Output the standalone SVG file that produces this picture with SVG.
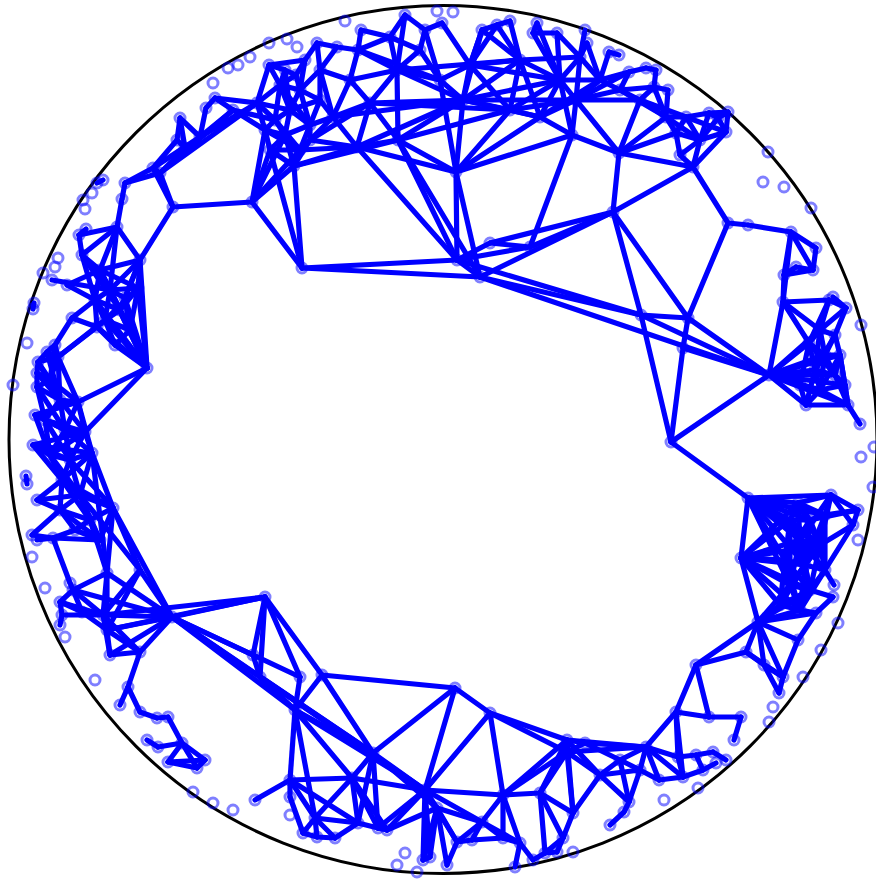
<svg xmlns="http://www.w3.org/2000/svg" width="876" height="880" viewBox="0 0 876 880">
<style>
.e line{stroke:#0000ff;stroke-width:5.2;stroke-linecap:round}
.n circle{fill:none;stroke:#0000ff;stroke-opacity:0.5;stroke-width:3}
</style>
<rect width="876" height="880" fill="#fff"/>
<circle id="disk" cx="443" cy="439.5" r="434" fill="none" stroke="#000" stroke-width="3"/>
<g id="edges" class="e">
<line x1="215" y1="98" x2="233" y2="110"/><line x1="215" y1="98" x2="257" y2="103"/><line x1="206" y1="108" x2="200" y2="137"/><line x1="215" y1="98" x2="206" y2="108"/><line x1="233" y1="110" x2="200" y2="137"/><line x1="257" y1="103" x2="200" y2="137"/><line x1="180" y1="118" x2="200" y2="137"/><line x1="180" y1="118" x2="177" y2="140"/><line x1="180" y1="118" x2="185" y2="148"/><line x1="177" y1="140" x2="185" y2="148"/><line x1="185" y1="148" x2="160" y2="173"/><line x1="177" y1="140" x2="153" y2="168"/><line x1="200" y1="137" x2="153" y2="168"/><line x1="233" y1="110" x2="160" y2="173"/><line x1="257" y1="103" x2="160" y2="173"/><line x1="153" y1="168" x2="160" y2="173"/><line x1="153" y1="168" x2="125" y2="183"/><line x1="160" y1="173" x2="125" y2="183"/><line x1="125" y1="183" x2="122" y2="199"/><line x1="122" y1="199" x2="117" y2="227"/><line x1="153" y1="168" x2="173" y2="207"/><line x1="160" y1="173" x2="173" y2="207"/><line x1="173" y1="207" x2="252" y2="202"/><line x1="252" y1="202" x2="302" y2="268"/><line x1="173" y1="207" x2="140" y2="260"/><line x1="103" y1="180" x2="97" y2="183"/>
<line x1="269" y1="65" x2="285" y2="70"/><line x1="269" y1="65" x2="280" y2="85"/><line x1="285" y1="70" x2="296" y2="75"/><line x1="285" y1="70" x2="280" y2="85"/><line x1="296" y1="75" x2="300" y2="90"/><line x1="305" y1="60" x2="296" y2="75"/><line x1="305" y1="60" x2="300" y2="90"/><line x1="280" y1="85" x2="300" y2="90"/><line x1="280" y1="85" x2="290" y2="110"/><line x1="280" y1="85" x2="275" y2="120"/><line x1="300" y1="90" x2="320" y2="100"/><line x1="300" y1="90" x2="290" y2="110"/><line x1="300" y1="90" x2="310" y2="125"/><line x1="320" y1="100" x2="310" y2="125"/><line x1="290" y1="110" x2="275" y2="120"/><line x1="290" y1="110" x2="310" y2="125"/><line x1="290" y1="110" x2="285" y2="135"/><line x1="275" y1="120" x2="265" y2="130"/><line x1="275" y1="120" x2="285" y2="135"/><line x1="310" y1="125" x2="285" y2="135"/><line x1="310" y1="125" x2="300" y2="150"/><line x1="265" y1="130" x2="285" y2="135"/><line x1="265" y1="130" x2="270" y2="150"/><line x1="285" y1="135" x2="300" y2="150"/><line x1="285" y1="135" x2="270" y2="150"/><line x1="300" y1="150" x2="270" y2="150"/><line x1="300" y1="150" x2="294" y2="166"/><line x1="270" y1="150" x2="294" y2="166"/><line x1="285" y1="135" x2="294" y2="166"/><line x1="275" y1="120" x2="257" y2="103"/><line x1="265" y1="130" x2="257" y2="103"/><line x1="280" y1="85" x2="257" y2="103"/><line x1="269" y1="65" x2="257" y2="103"/><line x1="275" y1="120" x2="233" y2="110"/><line x1="265" y1="130" x2="233" y2="110"/><line x1="290" y1="110" x2="257" y2="103"/><line x1="270" y1="150" x2="252" y2="202"/><line x1="265" y1="130" x2="252" y2="202"/><line x1="285" y1="135" x2="252" y2="202"/><line x1="300" y1="150" x2="252" y2="202"/><line x1="294" y1="166" x2="302" y2="268"/><line x1="270" y1="150" x2="302" y2="268"/><line x1="320" y1="100" x2="320" y2="70"/><line x1="310" y1="125" x2="333" y2="117"/><line x1="300" y1="150" x2="310" y2="140"/><line x1="305" y1="60" x2="317" y2="43"/><line x1="300" y1="90" x2="320" y2="70"/><line x1="310" y1="125" x2="310" y2="140"/><line x1="320" y1="100" x2="333" y2="117"/><line x1="294" y1="166" x2="310" y2="140"/><line x1="294" y1="166" x2="357" y2="147"/><line x1="300" y1="150" x2="357" y2="147"/><line x1="269" y1="65" x2="305" y2="60"/><line x1="290" y1="110" x2="320" y2="100"/><line x1="252" y1="202" x2="294" y2="166"/><line x1="275" y1="120" x2="300" y2="150"/><line x1="265" y1="130" x2="300" y2="150"/><line x1="280" y1="85" x2="310" y2="125"/><line x1="285" y1="70" x2="290" y2="110"/><line x1="296" y1="75" x2="280" y2="85"/>
<line x1="317" y1="43" x2="337" y2="47"/><line x1="317" y1="43" x2="320" y2="70"/><line x1="337" y1="47" x2="320" y2="70"/><line x1="337" y1="47" x2="358" y2="50"/><line x1="358" y1="50" x2="361" y2="30"/><line x1="361" y1="30" x2="390" y2="37"/><line x1="358" y1="50" x2="390" y2="37"/><line x1="390" y1="37" x2="405" y2="15"/><line x1="405" y1="15" x2="425" y2="30"/><line x1="425" y1="30" x2="442" y2="23"/><line x1="405" y1="15" x2="397" y2="70"/><line x1="390" y1="37" x2="397" y2="70"/><line x1="358" y1="50" x2="397" y2="70"/><line x1="358" y1="50" x2="350" y2="80"/><line x1="350" y1="80" x2="397" y2="70"/><line x1="350" y1="80" x2="370" y2="103"/><line x1="320" y1="70" x2="350" y2="80"/><line x1="320" y1="70" x2="333" y2="117"/><line x1="350" y1="80" x2="333" y2="117"/><line x1="333" y1="117" x2="370" y2="103"/><line x1="370" y1="103" x2="397" y2="70"/><line x1="397" y1="70" x2="420" y2="50"/><line x1="390" y1="37" x2="420" y2="50"/><line x1="425" y1="30" x2="420" y2="50"/><line x1="420" y1="50" x2="440" y2="80"/><line x1="397" y1="70" x2="440" y2="80"/><line x1="440" y1="80" x2="463" y2="100"/><line x1="370" y1="103" x2="398" y2="140"/><line x1="397" y1="70" x2="398" y2="140"/><line x1="333" y1="117" x2="310" y2="140"/><line x1="333" y1="117" x2="357" y2="147"/><line x1="310" y1="140" x2="357" y2="147"/><line x1="357" y1="147" x2="398" y2="140"/><line x1="370" y1="103" x2="357" y2="147"/><line x1="440" y1="80" x2="470" y2="65"/><line x1="442" y1="23" x2="470" y2="65"/><line x1="425" y1="30" x2="440" y2="80"/><line x1="470" y1="65" x2="482" y2="30"/><line x1="470" y1="65" x2="463" y2="100"/><line x1="482" y1="30" x2="497" y2="25"/><line x1="497" y1="25" x2="510" y2="21"/><line x1="482" y1="30" x2="520" y2="60"/><line x1="497" y1="25" x2="520" y2="60"/><line x1="510" y1="21" x2="520" y2="60"/><line x1="520" y1="60" x2="463" y2="100"/><line x1="520" y1="60" x2="510" y2="110"/><line x1="463" y1="100" x2="510" y2="110"/><line x1="510" y1="110" x2="540" y2="117"/><line x1="520" y1="60" x2="560" y2="80"/><line x1="537" y1="23" x2="560" y2="80"/><line x1="533" y1="33" x2="560" y2="80"/><line x1="537" y1="23" x2="533" y2="33"/><line x1="533" y1="33" x2="557" y2="33"/><line x1="557" y1="33" x2="560" y2="80"/><line x1="560" y1="80" x2="580" y2="57"/><line x1="557" y1="33" x2="580" y2="57"/><line x1="585" y1="30" x2="580" y2="57"/><line x1="587" y1="43" x2="580" y2="57"/><line x1="580" y1="57" x2="576" y2="100"/><line x1="560" y1="80" x2="576" y2="100"/><line x1="576" y1="100" x2="540" y2="117"/><line x1="520" y1="60" x2="540" y2="117"/><line x1="560" y1="80" x2="540" y2="117"/><line x1="580" y1="57" x2="600" y2="80"/><line x1="600" y1="80" x2="609" y2="52"/><line x1="609" y1="52" x2="619" y2="55"/><line x1="600" y1="80" x2="620" y2="90"/><line x1="600" y1="80" x2="629" y2="72"/><line x1="629" y1="72" x2="646" y2="68"/><line x1="646" y1="68" x2="656" y2="70"/><line x1="629" y1="72" x2="620" y2="90"/><line x1="620" y1="90" x2="654" y2="87"/><line x1="656" y1="70" x2="654" y2="87"/><line x1="654" y1="87" x2="668" y2="90"/><line x1="654" y1="87" x2="640" y2="100"/><line x1="620" y1="90" x2="640" y2="100"/><line x1="576" y1="100" x2="620" y2="90"/><line x1="576" y1="100" x2="640" y2="100"/><line x1="640" y1="100" x2="666" y2="117"/><line x1="668" y1="90" x2="666" y2="117"/><line x1="666" y1="117" x2="676" y2="133"/><line x1="666" y1="117" x2="686" y2="117"/><line x1="686" y1="117" x2="709" y2="113"/><line x1="709" y1="113" x2="718" y2="118"/><line x1="718" y1="118" x2="726" y2="132"/><line x1="709" y1="113" x2="728" y2="112"/><line x1="728" y1="112" x2="718" y2="118"/><line x1="728" y1="112" x2="726" y2="132"/><line x1="686" y1="117" x2="676" y2="133"/><line x1="676" y1="133" x2="700" y2="140"/><line x1="700" y1="140" x2="726" y2="132"/><line x1="676" y1="133" x2="680" y2="155"/><line x1="700" y1="140" x2="680" y2="155"/><line x1="680" y1="155" x2="693" y2="167"/><line x1="700" y1="140" x2="693" y2="167"/><line x1="726" y1="132" x2="693" y2="167"/><line x1="686" y1="117" x2="700" y2="140"/><line x1="686" y1="117" x2="726" y2="132"/><line x1="709" y1="113" x2="700" y2="140"/><line x1="718" y1="118" x2="700" y2="140"/><line x1="482" y1="30" x2="463" y2="100"/><line x1="398" y1="140" x2="463" y2="100"/><line x1="600" y1="80" x2="576" y2="100"/><line x1="587" y1="43" x2="600" y2="80"/><line x1="463" y1="100" x2="540" y2="117"/><line x1="510" y1="110" x2="576" y2="100"/><line x1="333" y1="117" x2="463" y2="100"/><line x1="370" y1="103" x2="510" y2="110"/><line x1="310" y1="140" x2="370" y2="103"/><line x1="357" y1="147" x2="463" y2="100"/><line x1="398" y1="140" x2="510" y2="110"/><line x1="397" y1="70" x2="520" y2="60"/><line x1="358" y1="50" x2="440" y2="80"/><line x1="470" y1="65" x2="560" y2="80"/><line x1="463" y1="100" x2="576" y2="100"/><line x1="510" y1="110" x2="560" y2="80"/><line x1="470" y1="65" x2="520" y2="60"/><line x1="482" y1="30" x2="470" y2="65"/><line x1="470" y1="65" x2="510" y2="110"/><line x1="497" y1="25" x2="470" y2="65"/><line x1="520" y1="60" x2="580" y2="57"/><line x1="560" y1="80" x2="600" y2="80"/><line x1="540" y1="117" x2="600" y2="80"/><line x1="576" y1="100" x2="629" y2="72"/><line x1="640" y1="100" x2="686" y2="117"/><line x1="666" y1="117" x2="700" y2="140"/><line x1="654" y1="87" x2="666" y2="117"/><line x1="620" y1="90" x2="666" y2="117"/><line x1="463" y1="100" x2="560" y2="80"/><line x1="370" y1="103" x2="463" y2="100"/><line x1="397" y1="70" x2="463" y2="100"/>
<line x1="398" y1="140" x2="456" y2="172"/><line x1="357" y1="147" x2="456" y2="172"/><line x1="398" y1="140" x2="480" y2="277"/><line x1="398" y1="140" x2="457" y2="260"/><line x1="357" y1="147" x2="457" y2="260"/><line x1="294" y1="166" x2="398" y2="140"/><line x1="302" y1="268" x2="457" y2="260"/><line x1="302" y1="268" x2="480" y2="277"/><line x1="463" y1="100" x2="456" y2="172"/><line x1="456" y1="172" x2="510" y2="110"/><line x1="456" y1="172" x2="540" y2="117"/><line x1="456" y1="172" x2="572" y2="135"/><line x1="456" y1="172" x2="480" y2="277"/><line x1="456" y1="172" x2="457" y2="260"/><line x1="440" y1="80" x2="456" y2="172"/><line x1="576" y1="100" x2="619" y2="153"/><line x1="640" y1="100" x2="619" y2="153"/><line x1="666" y1="117" x2="619" y2="153"/><line x1="676" y1="133" x2="619" y2="153"/><line x1="576" y1="100" x2="572" y2="135"/><line x1="540" y1="117" x2="572" y2="135"/><line x1="560" y1="80" x2="572" y2="135"/><line x1="572" y1="135" x2="619" y2="153"/><line x1="619" y1="153" x2="693" y2="167"/><line x1="619" y1="153" x2="613" y2="212"/><line x1="572" y1="135" x2="530" y2="247"/><line x1="693" y1="167" x2="613" y2="212"/><line x1="613" y1="212" x2="641" y2="315"/><line x1="613" y1="212" x2="688" y2="318"/><line x1="613" y1="212" x2="530" y2="247"/><line x1="613" y1="212" x2="490" y2="243"/><line x1="613" y1="212" x2="480" y2="277"/><line x1="480" y1="277" x2="641" y2="315"/><line x1="457" y1="260" x2="641" y2="315"/><line x1="480" y1="277" x2="769" y2="375"/><line x1="641" y1="315" x2="688" y2="318"/><line x1="641" y1="315" x2="671" y2="442"/><line x1="688" y1="318" x2="683" y2="348"/><line x1="683" y1="348" x2="671" y2="442"/><line x1="641" y1="315" x2="769" y2="375"/><line x1="688" y1="318" x2="769" y2="375"/><line x1="683" y1="348" x2="769" y2="375"/><line x1="671" y1="442" x2="769" y2="375"/><line x1="671" y1="442" x2="748" y2="498"/><line x1="728" y1="223" x2="688" y2="318"/><line x1="693" y1="167" x2="728" y2="223"/><line x1="457" y1="260" x2="490" y2="243"/><line x1="490" y1="243" x2="530" y2="247"/><line x1="457" y1="260" x2="480" y2="277"/><line x1="457" y1="260" x2="530" y2="247"/>
<line x1="728" y1="223" x2="748" y2="225"/><line x1="748" y1="225" x2="791" y2="232"/><line x1="791" y1="232" x2="784" y2="275"/><line x1="791" y1="232" x2="816" y2="248"/><line x1="816" y1="248" x2="813" y2="270"/><line x1="784" y1="275" x2="813" y2="270"/><line x1="791" y1="232" x2="813" y2="270"/><line x1="784" y1="275" x2="796" y2="267"/><line x1="796" y1="267" x2="813" y2="270"/><line x1="784" y1="275" x2="783" y2="302"/><line x1="791" y1="232" x2="783" y2="302"/><line x1="783" y1="302" x2="829" y2="300"/><line x1="829" y1="300" x2="846" y2="308"/><line x1="783" y1="302" x2="769" y2="375"/><line x1="783" y1="302" x2="809" y2="343"/><line x1="829" y1="300" x2="820" y2="330"/><line x1="846" y1="308" x2="820" y2="330"/><line x1="846" y1="308" x2="835" y2="335"/><line x1="809" y1="343" x2="769" y2="375"/><line x1="769" y1="375" x2="815" y2="370"/><line x1="769" y1="375" x2="820" y2="390"/><line x1="769" y1="375" x2="800" y2="385"/><line x1="769" y1="375" x2="806" y2="405"/><line x1="769" y1="375" x2="825" y2="355"/><line x1="769" y1="375" x2="820" y2="330"/><line x1="809" y1="343" x2="820" y2="330"/><line x1="809" y1="343" x2="825" y2="355"/><line x1="820" y1="330" x2="835" y2="335"/><line x1="820" y1="330" x2="825" y2="355"/><line x1="835" y1="335" x2="840" y2="355"/><line x1="825" y1="355" x2="840" y2="355"/><line x1="825" y1="355" x2="815" y2="370"/><line x1="840" y1="355" x2="835" y2="375"/><line x1="815" y1="370" x2="835" y2="375"/><line x1="815" y1="370" x2="820" y2="390"/><line x1="835" y1="375" x2="845" y2="385"/><line x1="845" y1="385" x2="848" y2="405"/><line x1="820" y1="390" x2="806" y2="405"/><line x1="800" y1="385" x2="806" y2="405"/><line x1="820" y1="390" x2="848" y2="405"/><line x1="835" y1="375" x2="848" y2="405"/><line x1="848" y1="405" x2="860" y2="424"/><line x1="806" y1="405" x2="848" y2="405"/><line x1="800" y1="385" x2="820" y2="390"/><line x1="840" y1="355" x2="845" y2="385"/><line x1="833" y1="297" x2="846" y2="308"/><line x1="783" y1="302" x2="820" y2="330"/><line x1="835" y1="335" x2="825" y2="355"/><line x1="820" y1="330" x2="815" y2="370"/><line x1="825" y1="355" x2="835" y2="375"/><line x1="825" y1="355" x2="820" y2="390"/><line x1="840" y1="355" x2="820" y2="390"/><line x1="809" y1="343" x2="800" y2="385"/><line x1="769" y1="375" x2="835" y2="375"/><line x1="829" y1="300" x2="809" y2="343"/><line x1="809" y1="343" x2="815" y2="370"/><line x1="835" y1="335" x2="815" y2="370"/><line x1="845" y1="385" x2="820" y2="390"/><line x1="840" y1="355" x2="848" y2="405"/><line x1="769" y1="375" x2="840" y2="355"/><line x1="769" y1="375" x2="845" y2="385"/><line x1="769" y1="375" x2="848" y2="405"/><line x1="809" y1="343" x2="835" y2="375"/><line x1="815" y1="370" x2="806" y2="405"/>
<line x1="748" y1="498" x2="798" y2="503"/><line x1="748" y1="498" x2="790" y2="520"/><line x1="748" y1="498" x2="810" y2="520"/><line x1="748" y1="498" x2="831" y2="495"/><line x1="748" y1="498" x2="800" y2="540"/><line x1="748" y1="498" x2="741" y2="558"/><line x1="748" y1="498" x2="785" y2="560"/><line x1="748" y1="498" x2="805" y2="565"/><line x1="741" y1="558" x2="800" y2="540"/><line x1="741" y1="558" x2="785" y2="560"/><line x1="741" y1="558" x2="805" y2="565"/><line x1="741" y1="558" x2="790" y2="585"/><line x1="741" y1="558" x2="780" y2="605"/><line x1="741" y1="558" x2="758" y2="622"/><line x1="741" y1="558" x2="798" y2="503"/><line x1="741" y1="558" x2="790" y2="520"/><line x1="798" y1="503" x2="831" y2="495"/><line x1="798" y1="503" x2="790" y2="520"/><line x1="798" y1="503" x2="810" y2="520"/><line x1="831" y1="495" x2="858" y2="510"/><line x1="831" y1="495" x2="825" y2="515"/><line x1="831" y1="495" x2="853" y2="525"/><line x1="858" y1="510" x2="853" y2="525"/><line x1="858" y1="510" x2="825" y2="515"/><line x1="853" y1="525" x2="820" y2="545"/><line x1="790" y1="520" x2="810" y2="520"/><line x1="810" y1="520" x2="825" y2="515"/><line x1="790" y1="520" x2="800" y2="540"/><line x1="810" y1="520" x2="800" y2="540"/><line x1="810" y1="520" x2="820" y2="545"/><line x1="825" y1="515" x2="820" y2="545"/><line x1="800" y1="540" x2="820" y2="545"/><line x1="800" y1="540" x2="785" y2="560"/><line x1="820" y1="545" x2="805" y2="565"/><line x1="820" y1="545" x2="825" y2="570"/><line x1="785" y1="560" x2="805" y2="565"/><line x1="805" y1="565" x2="825" y2="570"/><line x1="825" y1="570" x2="834" y2="585"/><line x1="785" y1="560" x2="790" y2="585"/><line x1="805" y1="565" x2="810" y2="590"/><line x1="825" y1="570" x2="810" y2="590"/><line x1="790" y1="585" x2="810" y2="590"/><line x1="790" y1="585" x2="780" y2="605"/><line x1="810" y1="590" x2="800" y2="610"/><line x1="780" y1="605" x2="800" y2="610"/><line x1="780" y1="605" x2="758" y2="622"/><line x1="800" y1="610" x2="758" y2="622"/><line x1="810" y1="590" x2="833" y2="597"/><line x1="800" y1="610" x2="816" y2="613"/><line x1="833" y1="597" x2="816" y2="613"/><line x1="758" y1="622" x2="746" y2="652"/><line x1="758" y1="622" x2="764" y2="665"/><line x1="758" y1="622" x2="798" y2="640"/><line x1="798" y1="640" x2="816" y2="613"/><line x1="746" y1="652" x2="764" y2="665"/><line x1="764" y1="665" x2="783" y2="677"/><line x1="783" y1="677" x2="779" y2="693"/><line x1="764" y1="665" x2="779" y2="693"/><line x1="798" y1="640" x2="783" y2="677"/><line x1="758" y1="622" x2="816" y2="613"/><line x1="831" y1="495" x2="800" y2="540"/><line x1="798" y1="503" x2="820" y2="545"/><line x1="825" y1="515" x2="825" y2="570"/><line x1="853" y1="525" x2="825" y2="570"/><line x1="785" y1="560" x2="780" y2="605"/><line x1="805" y1="565" x2="790" y2="585"/><line x1="800" y1="540" x2="805" y2="565"/><line x1="790" y1="520" x2="785" y2="560"/><line x1="741" y1="558" x2="800" y2="610"/><line x1="748" y1="498" x2="790" y2="585"/><line x1="820" y1="545" x2="810" y2="590"/><line x1="858" y1="510" x2="810" y2="520"/><line x1="758" y1="622" x2="783" y2="677"/><line x1="746" y1="652" x2="783" y2="677"/><line x1="790" y1="520" x2="820" y2="545"/><line x1="810" y1="520" x2="785" y2="560"/><line x1="800" y1="540" x2="825" y2="570"/><line x1="785" y1="560" x2="810" y2="590"/><line x1="805" y1="565" x2="780" y2="605"/><line x1="790" y1="585" x2="800" y2="610"/><line x1="798" y1="503" x2="800" y2="540"/><line x1="825" y1="515" x2="805" y2="565"/><line x1="748" y1="498" x2="820" y2="545"/><line x1="741" y1="558" x2="810" y2="590"/><line x1="696" y1="665" x2="758" y2="622"/><line x1="696" y1="665" x2="746" y2="652"/><line x1="790" y1="520" x2="805" y2="565"/><line x1="810" y1="520" x2="805" y2="565"/><line x1="800" y1="540" x2="790" y2="585"/><line x1="800" y1="540" x2="810" y2="590"/><line x1="820" y1="545" x2="790" y2="585"/><line x1="785" y1="560" x2="800" y2="610"/><line x1="805" y1="565" x2="800" y2="610"/><line x1="825" y1="570" x2="800" y2="610"/><line x1="831" y1="495" x2="820" y2="545"/><line x1="798" y1="503" x2="825" y2="515"/><line x1="790" y1="520" x2="790" y2="585"/><line x1="741" y1="558" x2="820" y2="545"/><line x1="748" y1="498" x2="825" y2="515"/><line x1="780" y1="605" x2="810" y2="590"/><line x1="758" y1="622" x2="790" y2="585"/><line x1="758" y1="622" x2="810" y2="590"/>
<line x1="696" y1="665" x2="676" y2="712"/><line x1="696" y1="665" x2="709" y2="717"/><line x1="676" y1="712" x2="709" y2="717"/><line x1="709" y1="717" x2="741" y2="717"/><line x1="741" y1="717" x2="734" y2="740"/><line x1="676" y1="712" x2="646" y2="747"/><line x1="676" y1="712" x2="678" y2="757"/><line x1="646" y1="747" x2="567" y2="740"/><line x1="646" y1="747" x2="567" y2="752"/><line x1="646" y1="747" x2="585" y2="743"/><line x1="646" y1="747" x2="620" y2="760"/><line x1="646" y1="747" x2="640" y2="770"/><line x1="646" y1="747" x2="678" y2="757"/><line x1="678" y1="757" x2="696" y2="755"/><line x1="696" y1="755" x2="713" y2="752"/><line x1="713" y1="752" x2="726" y2="760"/><line x1="678" y1="757" x2="683" y2="777"/><line x1="683" y1="777" x2="703" y2="770"/><line x1="703" y1="770" x2="716" y2="763"/><line x1="696" y1="755" x2="703" y2="770"/><line x1="646" y1="747" x2="683" y2="777"/><line x1="646" y1="747" x2="659" y2="780"/><line x1="659" y1="780" x2="683" y2="777"/><line x1="620" y1="760" x2="600" y2="775"/><line x1="620" y1="760" x2="629" y2="802"/><line x1="640" y1="770" x2="629" y2="802"/><line x1="600" y1="775" x2="629" y2="802"/><line x1="629" y1="802" x2="624" y2="812"/><line x1="624" y1="812" x2="610" y2="825"/><line x1="640" y1="770" x2="659" y2="780"/><line x1="620" y1="760" x2="640" y2="770"/><line x1="585" y1="743" x2="620" y2="760"/><line x1="567" y1="752" x2="600" y2="775"/><line x1="567" y1="740" x2="600" y2="775"/><line x1="600" y1="775" x2="640" y2="770"/><line x1="573" y1="813" x2="600" y2="775"/><line x1="676" y1="712" x2="683" y2="777"/>
<line x1="322" y1="675" x2="455" y2="688"/><line x1="455" y1="688" x2="490" y2="713"/><line x1="455" y1="688" x2="373" y2="753"/><line x1="455" y1="688" x2="425" y2="790"/><line x1="490" y1="713" x2="425" y2="790"/><line x1="490" y1="713" x2="567" y2="740"/><line x1="490" y1="713" x2="567" y2="752"/><line x1="490" y1="713" x2="503" y2="795"/><line x1="373" y1="753" x2="425" y2="790"/><line x1="373" y1="753" x2="437" y2="808"/><line x1="425" y1="790" x2="437" y2="808"/><line x1="425" y1="790" x2="430" y2="857"/><line x1="437" y1="808" x2="430" y2="857"/><line x1="437" y1="808" x2="447" y2="865"/><line x1="437" y1="808" x2="457" y2="842"/><line x1="425" y1="790" x2="457" y2="842"/><line x1="437" y1="808" x2="423" y2="860"/><line x1="425" y1="790" x2="423" y2="860"/><line x1="430" y1="857" x2="423" y2="860"/><line x1="457" y1="842" x2="447" y2="865"/><line x1="457" y1="842" x2="472" y2="840"/><line x1="472" y1="840" x2="482" y2="822"/><line x1="482" y1="822" x2="503" y2="795"/><line x1="457" y1="842" x2="482" y2="822"/><line x1="425" y1="790" x2="482" y2="822"/><line x1="437" y1="808" x2="482" y2="822"/><line x1="482" y1="822" x2="503" y2="838"/><line x1="503" y1="795" x2="503" y2="838"/><line x1="503" y1="838" x2="520" y2="843"/><line x1="520" y1="843" x2="533" y2="860"/><line x1="520" y1="843" x2="515" y2="867"/><line x1="533" y1="860" x2="545" y2="853"/><line x1="545" y1="853" x2="557" y2="852"/><line x1="503" y1="795" x2="540" y2="793"/><line x1="540" y1="793" x2="563" y2="838"/><line x1="540" y1="793" x2="573" y2="813"/><line x1="563" y1="838" x2="573" y2="813"/><line x1="567" y1="740" x2="540" y2="793"/><line x1="567" y1="740" x2="573" y2="813"/><line x1="567" y1="740" x2="567" y2="752"/><line x1="567" y1="752" x2="540" y2="793"/><line x1="567" y1="752" x2="585" y2="743"/><line x1="567" y1="740" x2="585" y2="743"/><line x1="563" y1="838" x2="557" y2="852"/><line x1="545" y1="853" x2="563" y2="838"/><line x1="472" y1="840" x2="503" y2="838"/><line x1="482" y1="822" x2="520" y2="843"/><line x1="387" y1="830" x2="425" y2="790"/><line x1="378" y1="828" x2="425" y2="790"/><line x1="387" y1="830" x2="437" y2="808"/><line x1="503" y1="795" x2="567" y2="740"/><line x1="503" y1="795" x2="567" y2="752"/><line x1="503" y1="795" x2="520" y2="843"/><line x1="540" y1="793" x2="545" y2="853"/><line x1="567" y1="752" x2="573" y2="813"/><line x1="425" y1="790" x2="503" y2="795"/>
<line x1="172" y1="617" x2="265" y2="597"/><line x1="103" y1="615" x2="265" y2="597"/><line x1="107" y1="630" x2="265" y2="597"/><line x1="172" y1="617" x2="253" y2="655"/><line x1="172" y1="617" x2="260" y2="677"/><line x1="172" y1="617" x2="295" y2="710"/><line x1="172" y1="617" x2="373" y2="753"/><line x1="260" y1="677" x2="373" y2="753"/><line x1="172" y1="617" x2="300" y2="677"/><line x1="265" y1="597" x2="253" y2="655"/><line x1="265" y1="597" x2="260" y2="677"/><line x1="265" y1="597" x2="300" y2="677"/><line x1="265" y1="597" x2="322" y2="675"/><line x1="253" y1="655" x2="260" y2="677"/><line x1="260" y1="677" x2="295" y2="710"/><line x1="300" y1="677" x2="295" y2="710"/><line x1="322" y1="675" x2="295" y2="710"/><line x1="322" y1="675" x2="373" y2="753"/><line x1="295" y1="710" x2="373" y2="753"/><line x1="295" y1="710" x2="290" y2="780"/><line x1="295" y1="710" x2="352" y2="778"/><line x1="295" y1="710" x2="425" y2="790"/><line x1="260" y1="677" x2="425" y2="790"/><line x1="290" y1="780" x2="255" y2="800"/><line x1="290" y1="780" x2="315" y2="818"/><line x1="290" y1="780" x2="290" y2="797"/><line x1="290" y1="780" x2="352" y2="778"/><line x1="315" y1="818" x2="303" y2="833"/><line x1="315" y1="818" x2="317" y2="837"/><line x1="315" y1="818" x2="335" y2="838"/><line x1="303" y1="833" x2="317" y2="837"/><line x1="317" y1="837" x2="335" y2="838"/><line x1="315" y1="818" x2="352" y2="778"/><line x1="352" y1="778" x2="358" y2="823"/><line x1="352" y1="778" x2="378" y2="828"/><line x1="335" y1="838" x2="358" y2="823"/><line x1="358" y1="823" x2="378" y2="828"/><line x1="378" y1="828" x2="387" y2="830"/><line x1="352" y1="778" x2="387" y2="830"/><line x1="373" y1="753" x2="352" y2="778"/><line x1="373" y1="753" x2="358" y2="823"/><line x1="373" y1="753" x2="378" y2="828"/><line x1="295" y1="710" x2="315" y2="818"/><line x1="290" y1="797" x2="303" y2="833"/><line x1="290" y1="780" x2="358" y2="823"/><line x1="352" y1="778" x2="425" y2="790"/><line x1="315" y1="818" x2="358" y2="823"/>
<line x1="70" y1="583" x2="73" y2="590"/><line x1="73" y1="590" x2="60" y2="602"/><line x1="60" y1="602" x2="82" y2="612"/><line x1="73" y1="590" x2="82" y2="612"/><line x1="60" y1="602" x2="62" y2="615"/><line x1="62" y1="615" x2="60" y2="625"/><line x1="82" y1="612" x2="103" y2="615"/><line x1="73" y1="590" x2="103" y2="615"/><line x1="60" y1="602" x2="103" y2="615"/><line x1="107" y1="573" x2="73" y2="590"/><line x1="107" y1="573" x2="103" y2="615"/><line x1="107" y1="573" x2="107" y2="630"/><line x1="140" y1="570" x2="103" y2="615"/><line x1="140" y1="570" x2="107" y2="630"/><line x1="140" y1="570" x2="172" y2="617"/><line x1="107" y1="573" x2="172" y2="617"/><line x1="103" y1="615" x2="172" y2="617"/><line x1="107" y1="630" x2="172" y2="617"/><line x1="103" y1="615" x2="110" y2="655"/><line x1="107" y1="630" x2="110" y2="655"/><line x1="110" y1="655" x2="140" y2="652"/><line x1="107" y1="630" x2="140" y2="652"/><line x1="140" y1="652" x2="172" y2="617"/><line x1="103" y1="615" x2="140" y2="652"/><line x1="82" y1="612" x2="107" y2="630"/><line x1="62" y1="615" x2="103" y2="615"/><line x1="73" y1="590" x2="172" y2="617"/><line x1="140" y1="652" x2="128" y2="687"/><line x1="128" y1="687" x2="120" y2="705"/><line x1="128" y1="687" x2="140" y2="712"/><line x1="140" y1="712" x2="157" y2="718"/><line x1="157" y1="718" x2="168" y2="717"/><line x1="168" y1="717" x2="182" y2="743"/><line x1="147" y1="740" x2="158" y2="747"/><line x1="158" y1="747" x2="182" y2="743"/><line x1="182" y1="743" x2="205" y2="760"/><line x1="182" y1="743" x2="197" y2="768"/><line x1="168" y1="762" x2="197" y2="768"/><line x1="182" y1="743" x2="168" y2="762"/><line x1="197" y1="768" x2="205" y2="760"/><line x1="168" y1="762" x2="205" y2="760"/><line x1="70" y1="583" x2="53" y2="538"/><line x1="107" y1="573" x2="92" y2="453"/><line x1="140" y1="570" x2="113" y2="508"/><line x1="140" y1="570" x2="80" y2="495"/><line x1="172" y1="617" x2="113" y2="508"/><line x1="107" y1="573" x2="90" y2="520"/><line x1="107" y1="573" x2="113" y2="508"/><line x1="110" y1="655" x2="172" y2="617"/>
<line x1="55" y1="345" x2="47" y2="352"/><line x1="47" y1="352" x2="38" y2="362"/><line x1="38" y1="362" x2="37" y2="373"/><line x1="37" y1="373" x2="37" y2="387"/><line x1="37" y1="387" x2="50" y2="380"/><line x1="55" y1="345" x2="58" y2="357"/><line x1="58" y1="357" x2="50" y2="380"/><line x1="47" y1="352" x2="58" y2="357"/><line x1="38" y1="362" x2="50" y2="380"/><line x1="37" y1="373" x2="50" y2="380"/><line x1="58" y1="357" x2="78" y2="402"/><line x1="50" y1="380" x2="60" y2="400"/><line x1="37" y1="387" x2="60" y2="400"/><line x1="60" y1="400" x2="78" y2="402"/><line x1="60" y1="400" x2="45" y2="420"/><line x1="35" y1="415" x2="45" y2="420"/><line x1="37" y1="387" x2="45" y2="420"/><line x1="45" y1="420" x2="65" y2="430"/><line x1="60" y1="400" x2="65" y2="430"/><line x1="78" y1="402" x2="65" y2="430"/><line x1="78" y1="402" x2="85" y2="432"/><line x1="65" y1="430" x2="85" y2="432"/><line x1="85" y1="432" x2="92" y2="453"/><line x1="65" y1="430" x2="50" y2="455"/><line x1="45" y1="420" x2="50" y2="455"/><line x1="35" y1="415" x2="50" y2="455"/><line x1="33" y1="445" x2="50" y2="455"/><line x1="50" y1="455" x2="70" y2="460"/><line x1="70" y1="460" x2="92" y2="453"/><line x1="85" y1="432" x2="70" y2="460"/><line x1="33" y1="445" x2="70" y2="460"/><line x1="70" y1="460" x2="62" y2="480"/><line x1="62" y1="480" x2="80" y2="495"/><line x1="80" y1="495" x2="113" y2="508"/><line x1="92" y1="453" x2="113" y2="508"/><line x1="80" y1="495" x2="90" y2="520"/><line x1="90" y1="520" x2="113" y2="508"/><line x1="37" y1="500" x2="62" y2="480"/><line x1="37" y1="500" x2="60" y2="510"/><line x1="60" y1="510" x2="80" y2="495"/><line x1="60" y1="510" x2="75" y2="530"/><line x1="75" y1="530" x2="90" y2="520"/><line x1="90" y1="520" x2="100" y2="540"/><line x1="113" y1="508" x2="100" y2="540"/><line x1="32" y1="535" x2="53" y2="538"/><line x1="37" y1="540" x2="53" y2="538"/><line x1="53" y1="538" x2="75" y2="530"/><line x1="53" y1="538" x2="100" y2="540"/><line x1="32" y1="535" x2="60" y2="510"/><line x1="33" y1="445" x2="92" y2="453"/><line x1="35" y1="415" x2="78" y2="402"/><line x1="26" y1="476" x2="27" y2="484"/><line x1="92" y1="453" x2="80" y2="495"/><line x1="92" y1="453" x2="62" y2="480"/><line x1="50" y1="455" x2="62" y2="480"/><line x1="33" y1="445" x2="62" y2="480"/><line x1="62" y1="480" x2="60" y2="510"/><line x1="70" y1="460" x2="80" y2="495"/><line x1="85" y1="432" x2="50" y2="455"/><line x1="75" y1="530" x2="100" y2="540"/><line x1="37" y1="500" x2="80" y2="495"/><line x1="58" y1="357" x2="60" y2="400"/><line x1="78" y1="402" x2="92" y2="453"/><line x1="55" y1="345" x2="50" y2="380"/><line x1="47" y1="352" x2="60" y2="400"/><line x1="38" y1="362" x2="60" y2="400"/><line x1="37" y1="387" x2="65" y2="430"/><line x1="45" y1="420" x2="85" y2="432"/><line x1="60" y1="400" x2="85" y2="432"/><line x1="65" y1="430" x2="70" y2="460"/><line x1="33" y1="445" x2="85" y2="432"/><line x1="50" y1="455" x2="80" y2="495"/><line x1="62" y1="480" x2="90" y2="520"/><line x1="60" y1="510" x2="90" y2="520"/><line x1="60" y1="510" x2="100" y2="540"/><line x1="38" y1="362" x2="58" y2="357"/><line x1="37" y1="373" x2="60" y2="400"/><line x1="50" y1="380" x2="78" y2="402"/><line x1="35" y1="415" x2="65" y2="430"/><line x1="45" y1="420" x2="70" y2="460"/><line x1="65" y1="430" x2="92" y2="453"/><line x1="70" y1="460" x2="113" y2="508"/><line x1="80" y1="495" x2="100" y2="540"/><line x1="62" y1="480" x2="113" y2="508"/>
<line x1="147" y1="368" x2="78" y2="402"/><line x1="147" y1="368" x2="85" y2="432"/><line x1="97" y1="327" x2="58" y2="357"/><line x1="72" y1="318" x2="55" y2="345"/><line x1="105" y1="320" x2="58" y2="357"/>
<line x1="86" y1="229" x2="79" y2="235"/><line x1="117" y1="227" x2="79" y2="235"/><line x1="79" y1="235" x2="82" y2="255"/><line x1="117" y1="227" x2="140" y2="260"/><line x1="117" y1="227" x2="82" y2="255"/><line x1="117" y1="227" x2="100" y2="270"/><line x1="117" y1="227" x2="110" y2="290"/><line x1="82" y1="255" x2="100" y2="270"/><line x1="82" y1="255" x2="110" y2="290"/><line x1="82" y1="255" x2="95" y2="300"/><line x1="140" y1="260" x2="138" y2="288"/><line x1="140" y1="260" x2="100" y2="270"/><line x1="140" y1="260" x2="110" y2="290"/><line x1="140" y1="260" x2="120" y2="310"/><line x1="138" y1="288" x2="110" y2="290"/><line x1="138" y1="288" x2="120" y2="310"/><line x1="138" y1="288" x2="130" y2="330"/><line x1="100" y1="270" x2="110" y2="290"/><line x1="100" y1="270" x2="95" y2="300"/><line x1="110" y1="290" x2="95" y2="300"/><line x1="110" y1="290" x2="120" y2="310"/><line x1="110" y1="290" x2="105" y2="320"/><line x1="95" y1="300" x2="105" y2="320"/><line x1="95" y1="300" x2="97" y2="327"/><line x1="120" y1="310" x2="105" y2="320"/><line x1="120" y1="310" x2="130" y2="330"/><line x1="105" y1="320" x2="130" y2="330"/><line x1="130" y1="330" x2="147" y2="368"/><line x1="120" y1="310" x2="147" y2="368"/><line x1="110" y1="290" x2="147" y2="368"/><line x1="100" y1="270" x2="147" y2="368"/><line x1="140" y1="260" x2="147" y2="368"/><line x1="138" y1="288" x2="147" y2="368"/><line x1="95" y1="300" x2="147" y2="368"/><line x1="105" y1="320" x2="147" y2="368"/><line x1="67" y1="285" x2="100" y2="270"/><line x1="67" y1="285" x2="95" y2="300"/><line x1="72" y1="318" x2="97" y2="327"/><line x1="72" y1="318" x2="95" y2="300"/><line x1="97" y1="327" x2="147" y2="368"/><line x1="125" y1="298" x2="140" y2="260"/><line x1="125" y1="298" x2="147" y2="368"/><line x1="125" y1="298" x2="110" y2="290"/><line x1="115" y1="345" x2="105" y2="320"/><line x1="115" y1="345" x2="130" y2="330"/><line x1="115" y1="345" x2="147" y2="368"/><line x1="115" y1="345" x2="97" y2="327"/><line x1="100" y1="270" x2="138" y2="288"/><line x1="52" y1="280" x2="110" y2="290"/><line x1="34" y1="303" x2="33" y2="309"/><line x1="125" y1="298" x2="120" y2="310"/><line x1="125" y1="298" x2="130" y2="330"/><line x1="100" y1="270" x2="120" y2="310"/><line x1="95" y1="300" x2="120" y2="310"/><line x1="105" y1="320" x2="97" y2="327"/><line x1="100" y1="270" x2="130" y2="330"/><line x1="110" y1="290" x2="130" y2="330"/><line x1="138" y1="288" x2="105" y2="320"/><line x1="82" y1="255" x2="120" y2="310"/>
</g>
<g id="nodes" class="n">
<g id="a1"><circle cx="269" cy="43" r="5"/></g><g id="a2"><circle cx="287" cy="39" r="5"/></g><g id="a3"><circle cx="297" cy="47" r="5"/></g><g id="a4"><circle cx="250" cy="57" r="5"/></g><g id="a5"><circle cx="238" cy="65" r="5"/></g><g id="a6"><circle cx="228" cy="68" r="5"/></g><g id="a7"><circle cx="213" cy="83" r="5"/></g><g id="a8"><circle cx="215" cy="98" r="5"/></g><g id="a9"><circle cx="206" cy="108" r="5"/></g><g id="a10"><circle cx="233" cy="110" r="5"/></g><g id="a11"><circle cx="257" cy="103" r="5"/></g><g id="a12"><circle cx="180" cy="118" r="5"/></g><g id="a13"><circle cx="200" cy="137" r="5"/></g><g id="a14"><circle cx="177" cy="140" r="5"/></g><g id="a15"><circle cx="185" cy="148" r="5"/></g><g id="a16"><circle cx="153" cy="168" r="5"/></g><g id="a17"><circle cx="160" cy="173" r="5"/></g><g id="a18"><circle cx="125" cy="183" r="5"/></g><g id="a19"><circle cx="103" cy="180" r="5"/></g><g id="a19b"><circle cx="97" cy="183" r="5"/></g><g id="a20"><circle cx="122" cy="199" r="5"/></g><g id="a21"><circle cx="92" cy="193" r="5"/></g><g id="a22"><circle cx="83" cy="200" r="5"/></g><g id="a23"><circle cx="85" cy="209" r="5"/></g><g id="a24"><circle cx="173" cy="207" r="5"/></g><g id="a25"><circle cx="252" cy="202" r="5"/></g><g id="a26"><circle cx="302" cy="268" r="5"/></g>
<g id="t1"><circle cx="269" cy="65" r="5"/></g><g id="t2"><circle cx="285" cy="70" r="5"/></g><g id="t3"><circle cx="296" cy="75" r="5"/></g><g id="t4"><circle cx="305" cy="60" r="5"/></g><g id="t5"><circle cx="280" cy="85" r="5"/></g><g id="t6"><circle cx="300" cy="90" r="5"/></g><g id="t7"><circle cx="320" cy="100" r="5"/></g><g id="t8"><circle cx="290" cy="110" r="5"/></g><g id="t9"><circle cx="275" cy="120" r="5"/></g><g id="t10"><circle cx="310" cy="125" r="5"/></g><g id="t11"><circle cx="265" cy="130" r="5"/></g><g id="t12"><circle cx="285" cy="135" r="5"/></g><g id="t13"><circle cx="300" cy="150" r="5"/></g><g id="t14"><circle cx="270" cy="150" r="5"/></g><g id="t15"><circle cx="294" cy="166" r="5"/></g>
<g id="k2"><circle cx="317" cy="43" r="5"/></g><g id="k3"><circle cx="337" cy="47" r="5"/></g><g id="k4"><circle cx="345" cy="21" r="5"/></g><g id="k5"><circle cx="361" cy="30" r="5"/></g><g id="k6"><circle cx="405" cy="15" r="5"/></g><g id="k7"><circle cx="437" cy="11" r="5"/></g><g id="k8"><circle cx="453" cy="12" r="5"/></g><g id="k9"><circle cx="442" cy="23" r="5"/></g><g id="k10"><circle cx="425" cy="30" r="5"/></g><g id="k11"><circle cx="390" cy="37" r="5"/></g><g id="k12"><circle cx="482" cy="30" r="5"/></g><g id="k14"><circle cx="497" cy="25" r="5"/></g><g id="k15"><circle cx="510" cy="21" r="5"/></g><g id="k16"><circle cx="537" cy="23" r="5"/></g><g id="k17"><circle cx="533" cy="33" r="5"/></g><g id="k18"><circle cx="557" cy="33" r="5"/></g><g id="k19"><circle cx="585" cy="30" r="5"/></g><g id="k20"><circle cx="587" cy="43" r="5"/></g><g id="k23"><circle cx="609" cy="52" r="5"/></g><g id="k24"><circle cx="619" cy="55" r="5"/></g><g id="k25"><circle cx="629" cy="72" r="5"/></g><g id="k26"><circle cx="646" cy="68" r="5"/></g><g id="k27"><circle cx="656" cy="70" r="5"/></g><g id="k28"><circle cx="654" cy="87" r="5"/></g><g id="k29"><circle cx="668" cy="90" r="5"/></g><g id="k30"><circle cx="666" cy="117" r="5"/></g><g id="k31"><circle cx="686" cy="117" r="5"/></g><g id="k32"><circle cx="709" cy="113" r="5"/></g><g id="k33"><circle cx="718" cy="118" r="5"/></g><g id="k34"><circle cx="726" cy="132" r="5"/></g><g id="k35"><circle cx="728" cy="112" r="5"/></g><g id="k36"><circle cx="676" cy="133" r="5"/></g><g id="k37"><circle cx="700" cy="140" r="5"/></g><g id="k38"><circle cx="680" cy="155" r="5"/></g><g id="k40"><circle cx="358" cy="50" r="5"/></g><g id="k41"><circle cx="397" cy="70" r="5"/></g><g id="k42"><circle cx="370" cy="103" r="5"/></g><g id="k43"><circle cx="440" cy="80" r="5"/></g><g id="k44"><circle cx="463" cy="100" r="5"/></g><g id="k45"><circle cx="333" cy="117" r="5"/></g><g id="k46"><circle cx="310" cy="140" r="5"/></g><g id="k48"><circle cx="357" cy="147" r="5"/></g><g id="k49"><circle cx="398" cy="140" r="5"/></g><g id="k50"><circle cx="470" cy="65" r="5"/></g><g id="k51"><circle cx="510" cy="110" r="5"/></g><g id="k52"><circle cx="540" cy="117" r="5"/></g><g id="k53"><circle cx="520" cy="60" r="5"/></g><g id="k54"><circle cx="560" cy="80" r="5"/></g><g id="k55"><circle cx="580" cy="57" r="5"/></g><g id="k56"><circle cx="576" cy="100" r="5"/></g><g id="k57"><circle cx="600" cy="80" r="5"/></g><g id="k58"><circle cx="620" cy="90" r="5"/></g><g id="k59"><circle cx="640" cy="100" r="5"/></g><g id="k60"><circle cx="420" cy="50" r="5"/></g><g id="k61"><circle cx="350" cy="80" r="5"/></g><g id="k62"><circle cx="320" cy="70" r="5"/></g>
<g id="j1"><circle cx="456" cy="172" r="5"/></g><g id="j2"><circle cx="480" cy="277" r="5"/></g><g id="j3"><circle cx="457" cy="260" r="5"/></g><g id="j4"><circle cx="490" cy="243" r="5"/></g><g id="j5"><circle cx="530" cy="247" r="5"/></g><g id="j6"><circle cx="613" cy="212" r="5"/></g><g id="j7"><circle cx="619" cy="153" r="5"/></g><g id="j8"><circle cx="572" cy="135" r="5"/></g><g id="j9"><circle cx="641" cy="315" r="5"/></g><g id="j10"><circle cx="688" cy="318" r="5"/></g><g id="j11"><circle cx="683" cy="348" r="5"/></g><g id="j12"><circle cx="671" cy="442" r="5"/></g><g id="j13"><circle cx="693" cy="167" r="5"/></g>
<g id="i1"><circle cx="728" cy="223" r="5"/></g><g id="i2"><circle cx="748" cy="225" r="5"/></g><g id="i3"><circle cx="791" cy="232" r="5"/></g><g id="i4"><circle cx="816" cy="248" r="5"/></g><g id="i5"><circle cx="813" cy="270" r="5"/></g><g id="i6"><circle cx="784" cy="275" r="5"/></g><g id="i7"><circle cx="796" cy="267" r="5"/></g><g id="i8"><circle cx="833" cy="297" r="5"/></g><g id="i9"><circle cx="783" cy="302" r="5"/></g><g id="i10"><circle cx="829" cy="300" r="5"/></g><g id="i11"><circle cx="846" cy="308" r="5"/></g><g id="i12"><circle cx="861" cy="325" r="5"/></g><g id="i13"><circle cx="809" cy="343" r="5"/></g><g id="i14"><circle cx="806" cy="405" r="5"/></g><g id="i15"><circle cx="848" cy="405" r="5"/></g><g id="i16"><circle cx="860" cy="424" r="5"/></g><g id="i17"><circle cx="769" cy="375" r="5"/></g><g id="i18"><circle cx="820" cy="330" r="5"/></g><g id="i19"><circle cx="835" cy="335" r="5"/></g><g id="i20"><circle cx="825" cy="355" r="5"/></g><g id="i21"><circle cx="840" cy="355" r="5"/></g><g id="i22"><circle cx="815" cy="370" r="5"/></g><g id="i23"><circle cx="835" cy="375" r="5"/></g><g id="i24"><circle cx="845" cy="385" r="5"/></g><g id="i25"><circle cx="820" cy="390" r="5"/></g><g id="i26"><circle cx="800" cy="385" r="5"/></g><g id="i27"><circle cx="768" cy="152" r="5"/></g><g id="i28"><circle cx="763" cy="182" r="5"/></g><g id="i29"><circle cx="784" cy="187" r="5"/></g><g id="i30"><circle cx="811" cy="208" r="5"/></g>
<g id="h1"><circle cx="748" cy="498" r="5"/></g><g id="h2"><circle cx="741" cy="558" r="5"/></g><g id="h3"><circle cx="798" cy="503" r="5"/></g><g id="h4"><circle cx="831" cy="495" r="5"/></g><g id="h5"><circle cx="858" cy="510" r="5"/></g><g id="h6"><circle cx="853" cy="525" r="5"/></g><g id="h7"><circle cx="858" cy="540" r="5"/></g><g id="h8"><circle cx="834" cy="585" r="5"/></g><g id="h9"><circle cx="758" cy="622" r="5"/></g><g id="h10"><circle cx="746" cy="652" r="5"/></g><g id="h11"><circle cx="764" cy="665" r="5"/></g><g id="h12"><circle cx="783" cy="677" r="5"/></g><g id="h13"><circle cx="779" cy="693" r="5"/></g><g id="h14"><circle cx="773" cy="707" r="5"/></g><g id="h15"><circle cx="769" cy="722" r="5"/></g><g id="h17"><circle cx="803" cy="677" r="5"/></g><g id="h18"><circle cx="821" cy="650" r="5"/></g><g id="h19"><circle cx="838" cy="623" r="5"/></g><g id="h20"><circle cx="833" cy="597" r="5"/></g><g id="h21"><circle cx="816" cy="613" r="5"/></g><g id="h22"><circle cx="798" cy="640" r="5"/></g><g id="h23"><circle cx="790" cy="520" r="5"/></g><g id="h24"><circle cx="810" cy="520" r="5"/></g><g id="h25"><circle cx="825" cy="515" r="5"/></g><g id="h26"><circle cx="800" cy="540" r="5"/></g><g id="h27"><circle cx="820" cy="545" r="5"/></g><g id="h28"><circle cx="785" cy="560" r="5"/></g><g id="h29"><circle cx="805" cy="565" r="5"/></g><g id="h30"><circle cx="825" cy="570" r="5"/></g><g id="h31"><circle cx="790" cy="585" r="5"/></g><g id="h32"><circle cx="810" cy="590" r="5"/></g><g id="h33"><circle cx="780" cy="605" r="5"/></g><g id="h34"><circle cx="800" cy="610" r="5"/></g><g id="h35"><circle cx="874" cy="447" r="5"/></g><g id="h36"><circle cx="861" cy="457" r="5"/></g><g id="h37"><circle cx="873" cy="487" r="5"/></g>
<g id="g1"><circle cx="696" cy="665" r="5"/></g><g id="g2"><circle cx="676" cy="712" r="5"/></g><g id="g3"><circle cx="709" cy="717" r="5"/></g><g id="g4"><circle cx="741" cy="717" r="5"/></g><g id="g5"><circle cx="734" cy="740" r="5"/></g><g id="g6"><circle cx="646" cy="747" r="5"/></g><g id="g7"><circle cx="696" cy="755" r="5"/></g><g id="g8"><circle cx="713" cy="752" r="5"/></g><g id="g9"><circle cx="726" cy="760" r="5"/></g><g id="g10"><circle cx="703" cy="770" r="5"/></g><g id="g11"><circle cx="716" cy="763" r="5"/></g><g id="g12"><circle cx="683" cy="777" r="5"/></g><g id="g13"><circle cx="659" cy="780" r="5"/></g><g id="g14"><circle cx="698" cy="788" r="5"/></g><g id="g15"><circle cx="664" cy="800" r="5"/></g><g id="g16"><circle cx="629" cy="802" r="5"/></g><g id="g17"><circle cx="624" cy="812" r="5"/></g><g id="g18"><circle cx="610" cy="825" r="5"/></g><g id="g20"><circle cx="620" cy="760" r="5"/></g><g id="g21"><circle cx="640" cy="770" r="5"/></g><g id="g22"><circle cx="600" cy="775" r="5"/></g><g id="g23"><circle cx="678" cy="757" r="5"/></g>
<g id="f1"><circle cx="455" cy="688" r="5"/></g><g id="f2"><circle cx="490" cy="713" r="5"/></g><g id="f3"><circle cx="425" cy="790" r="5"/></g><g id="f4"><circle cx="437" cy="808" r="5"/></g><g id="f5"><circle cx="447" cy="865" r="5"/></g><g id="f6"><circle cx="430" cy="857" r="5"/></g><g id="f7"><circle cx="423" cy="860" r="5"/></g><g id="f8"><circle cx="405" cy="853" r="5"/></g><g id="f9"><circle cx="397" cy="865" r="5"/></g><g id="f10"><circle cx="417" cy="872" r="5"/></g><g id="f11"><circle cx="457" cy="842" r="5"/></g><g id="f12"><circle cx="472" cy="840" r="5"/></g><g id="f13"><circle cx="482" cy="822" r="5"/></g><g id="f14"><circle cx="503" cy="795" r="5"/></g><g id="f15"><circle cx="503" cy="838" r="5"/></g><g id="f16"><circle cx="520" cy="843" r="5"/></g><g id="f17"><circle cx="533" cy="860" r="5"/></g><g id="f18"><circle cx="515" cy="867" r="5"/></g><g id="f19"><circle cx="545" cy="853" r="5"/></g><g id="f20"><circle cx="557" cy="852" r="5"/></g><g id="f21"><circle cx="573" cy="852" r="5"/></g><g id="f22"><circle cx="563" cy="838" r="5"/></g><g id="f23"><circle cx="540" cy="793" r="5"/></g><g id="f24"><circle cx="567" cy="740" r="5"/></g><g id="f25"><circle cx="573" cy="813" r="5"/></g><g id="f26"><circle cx="567" cy="752" r="5"/></g><g id="f27"><circle cx="585" cy="743" r="5"/></g>
<g id="e1"><circle cx="265" cy="597" r="5"/></g><g id="e2"><circle cx="253" cy="655" r="5"/></g><g id="e3"><circle cx="260" cy="677" r="5"/></g><g id="e4"><circle cx="300" cy="677" r="5"/></g><g id="e5"><circle cx="322" cy="675" r="5"/></g><g id="e6"><circle cx="295" cy="710" r="5"/></g><g id="e8"><circle cx="290" cy="780" r="5"/></g><g id="e9"><circle cx="255" cy="800" r="5"/></g><g id="e10"><circle cx="290" cy="815" r="5"/></g><g id="e11"><circle cx="303" cy="833" r="5"/></g><g id="e12"><circle cx="317" cy="837" r="5"/></g><g id="e13"><circle cx="335" cy="838" r="5"/></g><g id="e14"><circle cx="315" cy="818" r="5"/></g><g id="e15"><circle cx="352" cy="778" r="5"/></g><g id="e16"><circle cx="358" cy="823" r="5"/></g><g id="e17"><circle cx="378" cy="828" r="5"/></g><g id="e18"><circle cx="387" cy="830" r="5"/></g><g id="e20"><circle cx="290" cy="797" r="5"/></g><g id="e21"><circle cx="373" cy="753" r="5"/></g>
<g id="d1"><circle cx="45" cy="588" r="5"/></g><g id="d3"><circle cx="70" cy="583" r="5"/></g><g id="d4"><circle cx="107" cy="573" r="5"/></g><g id="d5"><circle cx="140" cy="570" r="5"/></g><g id="d6"><circle cx="60" cy="602" r="5"/></g><g id="d7"><circle cx="73" cy="590" r="5"/></g><g id="d8"><circle cx="82" cy="612" r="5"/></g><g id="d9"><circle cx="62" cy="615" r="5"/></g><g id="d10"><circle cx="60" cy="625" r="5"/></g><g id="d11"><circle cx="65" cy="637" r="5"/></g><g id="d12"><circle cx="103" cy="615" r="5"/></g><g id="d13"><circle cx="107" cy="630" r="5"/></g><g id="d14"><circle cx="110" cy="655" r="5"/></g><g id="d15"><circle cx="140" cy="652" r="5"/></g><g id="d16"><circle cx="172" cy="617" r="5"/></g><g id="d17"><circle cx="95" cy="680" r="5"/></g><g id="d18"><circle cx="128" cy="687" r="5"/></g><g id="d19"><circle cx="120" cy="705" r="5"/></g><g id="d20"><circle cx="140" cy="712" r="5"/></g><g id="d21"><circle cx="157" cy="718" r="5"/></g><g id="d22"><circle cx="168" cy="717" r="5"/></g><g id="d23"><circle cx="147" cy="740" r="5"/></g><g id="d24"><circle cx="158" cy="747" r="5"/></g><g id="d25"><circle cx="182" cy="743" r="5"/></g><g id="d26"><circle cx="168" cy="762" r="5"/></g><g id="d27"><circle cx="197" cy="768" r="5"/></g><g id="d28"><circle cx="205" cy="760" r="5"/></g><g id="d29"><circle cx="193" cy="792" r="5"/></g><g id="d30"><circle cx="213" cy="803" r="5"/></g><g id="d31"><circle cx="233" cy="810" r="5"/></g>
<g id="c1"><circle cx="27" cy="343" r="5"/></g><g id="c2"><circle cx="55" cy="345" r="5"/></g><g id="c3"><circle cx="47" cy="352" r="5"/></g><g id="c4"><circle cx="38" cy="362" r="5"/></g><g id="c5"><circle cx="37" cy="373" r="5"/></g><g id="c6"><circle cx="37" cy="387" r="5"/></g><g id="c7"><circle cx="35" cy="415" r="5"/></g><g id="c8"><circle cx="33" cy="445" r="5"/></g><g id="c9"><circle cx="58" cy="357" r="5"/></g><g id="c10"><circle cx="13" cy="385" r="5"/></g><g id="c11"><circle cx="78" cy="402" r="5"/></g><g id="c12"><circle cx="85" cy="432" r="5"/></g><g id="c13"><circle cx="92" cy="453" r="5"/></g><g id="c14"><circle cx="26" cy="476" r="5"/></g><g id="c15"><circle cx="27" cy="484" r="5"/></g><g id="c16"><circle cx="37" cy="500" r="5"/></g><g id="c17"><circle cx="62" cy="480" r="5"/></g><g id="c18"><circle cx="113" cy="508" r="5"/></g><g id="c19"><circle cx="32" cy="535" r="5"/></g><g id="c20"><circle cx="37" cy="540" r="5"/></g><g id="c21"><circle cx="53" cy="538" r="5"/></g><g id="c22"><circle cx="32" cy="557" r="5"/></g><g id="c23"><circle cx="50" cy="380" r="5"/></g><g id="c24"><circle cx="60" cy="400" r="5"/></g><g id="c25"><circle cx="45" cy="420" r="5"/></g><g id="c26"><circle cx="65" cy="430" r="5"/></g><g id="c27"><circle cx="50" cy="455" r="5"/></g><g id="c28"><circle cx="70" cy="460" r="5"/></g><g id="c29"><circle cx="80" cy="495" r="5"/></g><g id="c30"><circle cx="60" cy="510" r="5"/></g><g id="c31"><circle cx="90" cy="520" r="5"/></g><g id="c32"><circle cx="75" cy="530" r="5"/></g><g id="c33"><circle cx="100" cy="540" r="5"/></g>
<g id="b1"><circle cx="117" cy="227" r="5"/></g><g id="b2"><circle cx="86" cy="229" r="5"/></g><g id="b3"><circle cx="79" cy="235" r="5"/></g><g id="b4"><circle cx="82" cy="255" r="5"/></g><g id="b5"><circle cx="58" cy="258" r="5"/></g><g id="b6"><circle cx="55" cy="267" r="5"/></g><g id="b7"><circle cx="43" cy="273" r="5"/></g><g id="b8"><circle cx="52" cy="280" r="5"/></g><g id="b9"><circle cx="67" cy="285" r="5"/></g><g id="b10"><circle cx="140" cy="260" r="5"/></g><g id="b11"><circle cx="138" cy="288" r="5"/></g><g id="b12"><circle cx="100" cy="270" r="5"/></g><g id="b13"><circle cx="110" cy="290" r="5"/></g><g id="b14"><circle cx="95" cy="300" r="5"/></g><g id="b15"><circle cx="120" cy="310" r="5"/></g><g id="b16"><circle cx="105" cy="320" r="5"/></g><g id="b17"><circle cx="130" cy="330" r="5"/></g><g id="b18"><circle cx="115" cy="345" r="5"/></g><g id="b19"><circle cx="72" cy="318" r="5"/></g><g id="b20"><circle cx="97" cy="327" r="5"/></g><g id="b21"><circle cx="147" cy="368" r="5"/></g><g id="b22"><circle cx="34" cy="303" r="5"/></g><g id="b22b"><circle cx="33" cy="309" r="5"/></g><g id="b23"><circle cx="125" cy="298" r="5"/></g>
</g>
</svg>
